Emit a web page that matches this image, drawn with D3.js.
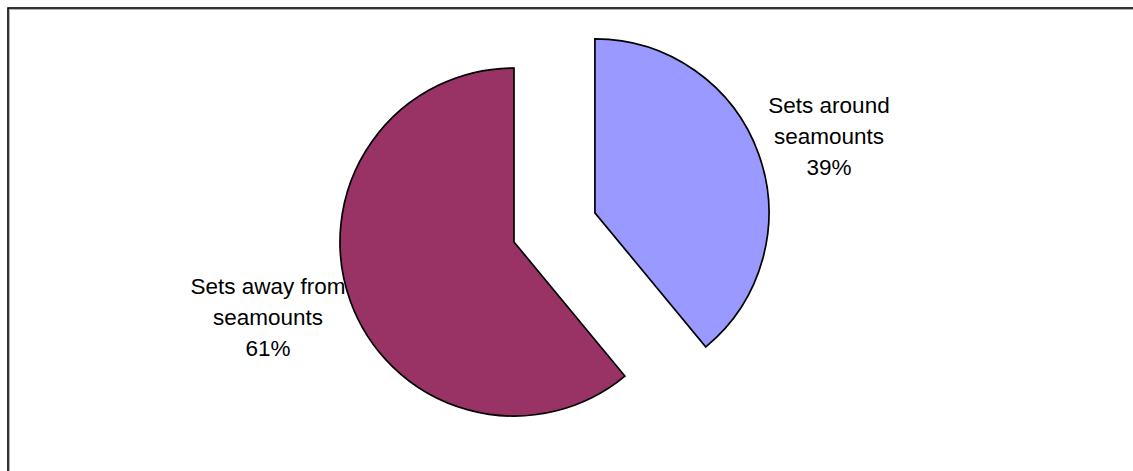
<!DOCTYPE html>
<html>
<head>
<meta charset="utf-8">
<script src="https://cdn.jsdelivr.net/npm/d3@7"></script>
<style>
  body { margin: 0; background: #fff; }
  svg { display: block; }
</style>
</head>
<body>
<script>
const categories = ["Sets around seamounts", "Sets away from seamounts"]
const values = [39, 61]
const labelLines = [["Sets around", "seamounts"], ["Sets away from", "seamounts"]]
const colors = ["#9999ff", "#993366"]

const width = 1133, height = 471
const cx = 514, cy = 242, radius = 174
const explode = [86, 0]

const svg = d3.select("body").append("svg")
    .attr("width", width)
    .attr("height", height)

// frame, only top and left edges fall inside the window
svg.append("rect")
    .attr("x", 9.5).attr("y", 9.5)
    .attr("width", width + 20).attr("height", height + 20)
    .style("fill", "none").style("stroke", "#b0b0b0").style("stroke-width", 1)
svg.append("rect")
    .attr("x", 8).attr("y", 8)
    .attr("width", width + 20).attr("height", height + 20)
    .style("fill", "none").style("stroke", "#000").style("stroke-width", 1.6)

const pie = d3.pie().sort(null).value(d => d)
const arcs = pie(values)
const arc = d3.arc().innerRadius(0).outerRadius(radius)

const g = svg.append("g").attr("transform", `translate(${cx},${cy})`)

g.selectAll("path")
  .data(arcs)
  .join("path")
    .attr("transform", (d, i) => {
      const mid = (d.startAngle + d.endAngle) / 2
      return `translate(${explode[i] * Math.sin(mid)},${-explode[i] * Math.cos(mid)})`
    })
    .attr("d", arc)
    .style("fill", (d, i) => colors[i])
    .style("stroke", "#000")
    .style("stroke-width", 1.7)
    .style("stroke-linejoin", "miter")

// labels
const labelPos = [[829, 113], [268, 294]]
const lineH = 31

arcs.forEach((d, i) => {
  const lines = labelLines[i].concat([Math.round(d.data) + "%"])
  const t = svg.append("text")
      .attr("text-anchor", "middle")
      .attr("font-family", "Liberation Sans, Arial, sans-serif")
      .attr("font-size", 22.5)
      .style("fill", "#000")
  lines.forEach((s, j) => {
    t.append("tspan")
        .attr("x", labelPos[i][0])
        .attr("y", labelPos[i][1] + j * lineH)
        .text(s)
  })
})
</script>
</body>
</html>
